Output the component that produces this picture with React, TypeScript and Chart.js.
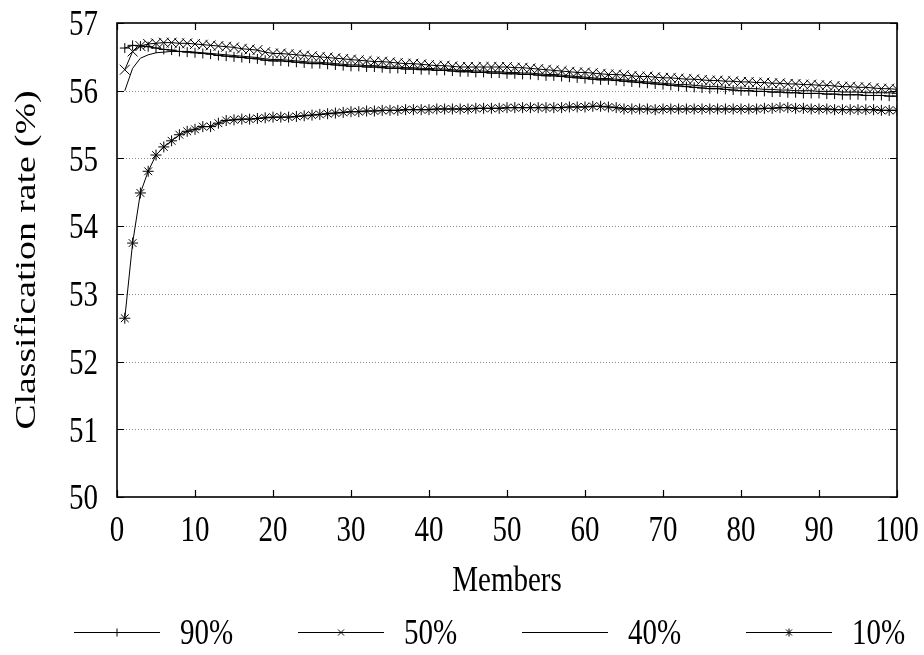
import React, { useEffect, useRef } from "react";
import { Chart, registerables } from "chart.js";

Chart.register(...registerables);

// ---------- data ----------
const members: number[] = Array.from({ length: 100 }, (_, i) => i + 1);

const rate90: number[] = [
  56.63, 56.67, 56.66, 56.65, 56.63, 56.61, 56.60, 56.58, 56.57, 56.56,
  56.55, 56.54, 56.52, 56.51, 56.50, 56.49, 56.48, 56.47, 56.45, 56.44,
  56.44, 56.43, 56.42, 56.41, 56.40, 56.40, 56.39, 56.38, 56.37, 56.36,
  56.36, 56.35, 56.35, 56.34, 56.33, 56.33, 56.32, 56.32, 56.31, 56.31,
  56.30, 56.30, 56.29, 56.28, 56.28, 56.27, 56.27, 56.26, 56.26, 56.25,
  56.25, 56.24, 56.24, 56.23, 56.22, 56.22, 56.21, 56.20, 56.19, 56.18,
  56.17, 56.16, 56.16, 56.15, 56.14, 56.13, 56.12, 56.11, 56.10, 56.09,
  56.08, 56.07, 56.06, 56.05, 56.04, 56.03, 56.03, 56.02, 56.01, 56.00,
  56.00, 55.99, 55.99, 55.98, 55.98, 55.97, 55.97, 55.96, 55.96, 55.96,
  55.95, 55.95, 55.94, 55.94, 55.94, 55.93, 55.93, 55.93, 55.92, 55.92,
];

const rate50: number[] = [
  56.31, 56.58, 56.66, 56.69, 56.70, 56.71, 56.71, 56.70, 56.70, 56.69,
  56.68, 56.67, 56.66, 56.65, 56.64, 56.62, 56.61, 56.60, 56.57, 56.55,
  56.55, 56.54, 56.53, 56.52, 56.51, 56.50, 56.49, 56.48, 56.47, 56.46,
  56.45, 56.44, 56.43, 56.43, 56.42, 56.41, 56.40, 56.40, 56.39, 56.38,
  56.37, 56.37, 56.36, 56.35, 56.35, 56.35, 56.35, 56.35, 56.35, 56.35,
  56.34, 56.34, 56.33, 56.32, 56.31, 56.30, 56.29, 56.28, 56.27, 56.27,
  56.26, 56.25, 56.24, 56.24, 56.23, 56.22, 56.21, 56.21, 56.20, 56.19,
  56.19, 56.18, 56.17, 56.17, 56.16, 56.15, 56.15, 56.14, 56.14, 56.13,
  56.13, 56.12, 56.12, 56.11, 56.11, 56.10, 56.10, 56.09, 56.09, 56.08,
  56.08, 56.07, 56.06, 56.06, 56.05, 56.05, 56.04, 56.03, 56.03, 56.02,
];

const rate40: number[] = [
  56.00, 56.33, 56.48, 56.53, 56.56, 56.57, 56.58, 56.58, 56.58, 56.57,
  56.56, 56.55, 56.54, 56.53, 56.52, 56.51, 56.50, 56.49, 56.47, 56.46,
  56.46, 56.45, 56.44, 56.43, 56.42, 56.42, 56.41, 56.40, 56.39, 56.38,
  56.38, 56.37, 56.37, 56.36, 56.35, 56.35, 56.34, 56.34, 56.33, 56.33,
  56.32, 56.32, 56.31, 56.30, 56.30, 56.29, 56.29, 56.28, 56.28, 56.27,
  56.27, 56.26, 56.26, 56.25, 56.24, 56.24, 56.23, 56.22, 56.21, 56.20,
  56.19, 56.18, 56.18, 56.17, 56.16, 56.15, 56.14, 56.13, 56.12, 56.11,
  56.10, 56.09, 56.09, 56.08, 56.07, 56.06, 56.06, 56.05, 56.04, 56.04,
  56.03, 56.03, 56.02, 56.02, 56.01, 56.01, 56.00, 56.00, 56.00, 55.99,
  55.99, 55.99, 55.98, 55.98, 55.98, 55.97, 55.97, 55.97, 55.97, 55.96,
];

const rate10: number[] = [
  52.64, 53.75, 54.49, 54.81, 55.05, 55.17, 55.26, 55.35, 55.40, 55.43,
  55.47, 55.47, 55.52, 55.56, 55.57, 55.58, 55.58, 55.59, 55.60, 55.61,
  55.61, 55.61, 55.62, 55.63, 55.64, 55.65, 55.66, 55.67, 55.68, 55.69,
  55.69, 55.70, 55.70, 55.71, 55.71, 55.71, 55.72, 55.72, 55.72, 55.72,
  55.73, 55.73, 55.73, 55.73, 55.73, 55.74, 55.74, 55.74, 55.74, 55.75,
  55.75, 55.75, 55.75, 55.75, 55.75, 55.75, 55.75, 55.76, 55.76, 55.76,
  55.77, 55.77, 55.76, 55.75, 55.73, 55.73, 55.73, 55.73, 55.72, 55.73,
  55.73, 55.73, 55.73, 55.73, 55.73, 55.73, 55.73, 55.73, 55.73, 55.73,
  55.73, 55.73, 55.74, 55.74, 55.75, 55.75, 55.74, 55.74, 55.73, 55.73,
  55.73, 55.72, 55.72, 55.72, 55.72, 55.72, 55.72, 55.71, 55.71, 55.71,
];

const seriesNames: string[] = ["90%", "50%", "40%", "10%"];
const seriesMarkers: string[] = ["cross", "crossRot", "none", "star"];

const xTicks: number[] = [0, 10, 20, 30, 40, 50, 60, 70, 80, 90, 100];
const yTicks: number[] = [50, 51, 52, 53, 54, 55, 56, 57];

const xTitle = "Members";
const yTitle = "Classification rate (%)";

// ---------- styling ----------
const FONT = "'Liberation Serif', 'Times New Roman', serif";
const FSIZE = 29;
const SY = 1.25; // vertical stretch of the glyphs in the reference
const DIGIT_MID = 0.338 * FSIZE * SY;

function stretchedText(
  ctx: CanvasRenderingContext2D,
  text: string,
  x: number,
  y: number,
  align: CanvasTextAlign
) {
  ctx.save();
  ctx.translate(x, y);
  ctx.scale(1, SY);
  ctx.font = `${FSIZE}px ${FONT}`;
  ctx.fillStyle = "#000";
  ctx.textAlign = align;
  ctx.textBaseline = "alphabetic";
  ctx.fillText(text, 0, 0);
  ctx.restore();
}

function drawMarker(
  ctx: CanvasRenderingContext2D,
  style: string,
  x: number,
  y: number,
  r: number
) {
  ctx.beginPath();
  if (style === "cross" || style === "star") {
    ctx.moveTo(x - r, y);
    ctx.lineTo(x + r, y);
    ctx.moveTo(x, y - r);
    ctx.lineTo(x, y + r);
  }
  if (style === "crossRot" || style === "star") {
    const d = r * 0.75;
    ctx.moveTo(x - d, y - d);
    ctx.lineTo(x + d, y + d);
    ctx.moveTo(x - d, y + d);
    ctx.lineTo(x + d, y - d);
  }
  ctx.stroke();
}

const framePlugin = {
  id: "gnuFrame",
  beforeDatasetsDraw(chart: any) {
    const { ctx, chartArea: a, scales } = chart;
    const y = scales.y;
    ctx.save();
    ctx.strokeStyle = "#8a8a8a";
    ctx.lineWidth = 1;
    ctx.setLineDash([1, 2]);
    for (const v of yTicks) {
      if (v === yTicks[0] || v === yTicks[yTicks.length - 1]) continue;
      const py = Math.round(y.getPixelForValue(v)) + 0.5;
      ctx.beginPath();
      ctx.moveTo(a.left, py);
      ctx.lineTo(a.right, py);
      ctx.stroke();
    }
    ctx.restore();
  },
  afterDatasetsDraw(chart: any) {
    const { ctx, chartArea: a, scales } = chart;
    const x = scales.x;
    const y = scales.y;
    ctx.save();
    ctx.strokeStyle = "#000";
    ctx.lineWidth = 1.6;
    ctx.setLineDash([]);
    ctx.strokeRect(a.left, a.top, a.right - a.left, a.bottom - a.top);
    const TL = 7;
    ctx.lineWidth = 1.2;
    ctx.beginPath();
    for (const v of xTicks) {
      const px = Math.round(x.getPixelForValue(v)) + 0.5;
      ctx.moveTo(px, a.bottom);
      ctx.lineTo(px, a.bottom - TL);
      ctx.moveTo(px, a.top);
      ctx.lineTo(px, a.top + TL);
    }
    for (const v of yTicks) {
      const py = Math.round(y.getPixelForValue(v)) + 0.5;
      ctx.moveTo(a.left, py);
      ctx.lineTo(a.left + TL, py);
      ctx.moveTo(a.right, py);
      ctx.lineTo(a.right - TL, py);
    }
    ctx.stroke();
    ctx.restore();
  },
  afterDraw(chart: any) {
    const { ctx, chartArea: a, scales } = chart;
    const x = scales.x;
    const y = scales.y;
    // tick labels
    for (const v of xTicks) {
      stretchedText(ctx, String(v), x.getPixelForValue(v), a.bottom + 32 + DIGIT_MID, "center");
    }
    for (const v of yTicks) {
      stretchedText(ctx, String(v), a.left - 19, y.getPixelForValue(v) + DIGIT_MID, "right");
    }
    // axis titles
    stretchedText(ctx, xTitle, (a.left + a.right) / 2, 591, "center");
    ctx.save();
    ctx.translate(35, (a.top + a.bottom) / 2);
    ctx.rotate(-Math.PI / 2);
    ctx.scale(1.3, 1);
    ctx.font = `${FSIZE}px ${FONT}`;
    ctx.fillStyle = "#000";
    ctx.textAlign = "center";
    ctx.textBaseline = "alphabetic";
    ctx.fillText(yTitle, 0, 0);
    ctx.restore();
    // legend
    const ly = 632;
    ctx.save();
    ctx.strokeStyle = "#000";
    ctx.lineWidth = 1;
    seriesNames.forEach((name, i) => {
      const tx = 180 + i * 224;
      ctx.beginPath();
      ctx.moveTo(tx - 106, ly + 0.5);
      ctx.lineTo(tx - 20, ly + 0.5);
      ctx.stroke();
      if (seriesMarkers[i] !== "none") drawMarker(ctx, seriesMarkers[i], tx - 63, ly + 0.5, 4);
      stretchedText(ctx, name, tx, ly + DIGIT_MID, "left");
    });
    ctx.restore();
  },
};

export default function App() {
  const canvasRef = useRef<HTMLCanvasElement | null>(null);

  useEffect(() => {
    const canvas = canvasRef.current;
    if (!canvas) return;
    const series = [rate90, rate50, rate40, rate10];
    const radii = [5, 7, 0, 5.5];
    const chart = new Chart(canvas, {
      type: "line",
      data: {
        datasets: series.map((vals, i) => ({
          label: seriesNames[i],
          data: members.map((m, j) => ({ x: m, y: vals[j] })),
          borderColor: "#000",
          backgroundColor: "#000",
          borderWidth: 1,
          pointStyle: (seriesMarkers[i] === "none" ? "circle" : seriesMarkers[i]) as any,
          pointRadius: radii[i],
          pointBorderColor: "#000",
          pointBackgroundColor: "transparent",
          pointBorderWidth: 1,
          tension: 0,
          fill: false,
        })),
      },
      options: {
        animation: false,
        responsive: false,
        maintainAspectRatio: false,
        devicePixelRatio: 1,
        events: [],
        layout: { padding: { top: 23, right: 27, left: 0, bottom: 0 } },
        plugins: {
          legend: { display: false },
          tooltip: { enabled: false },
          title: { display: false },
        },
        scales: {
          x: {
            type: "linear",
            min: 0,
            max: 100,
            ticks: { display: false, stepSize: 10 },
            grid: { display: false, drawTicks: false },
            border: { display: false },
            afterFit: (s: any) => {
              s.height = 158;
            },
          },
          y: {
            type: "linear",
            min: 50,
            max: 57,
            ticks: { display: false, stepSize: 1 },
            grid: { display: false, drawTicks: false },
            border: { display: false },
            afterFit: (s: any) => {
              s.width = 117;
            },
          },
        },
      },
      plugins: [framePlugin],
    });
    return () => chart.destroy();
  }, []);

  return (
    <div style={{ position: "fixed", left: 0, top: 0, width: 924, height: 655, background: "#fff" }}>
      <canvas ref={canvasRef} width={924} height={655} style={{ width: 924, height: 655, display: "block" }} />
    </div>
  );
}
